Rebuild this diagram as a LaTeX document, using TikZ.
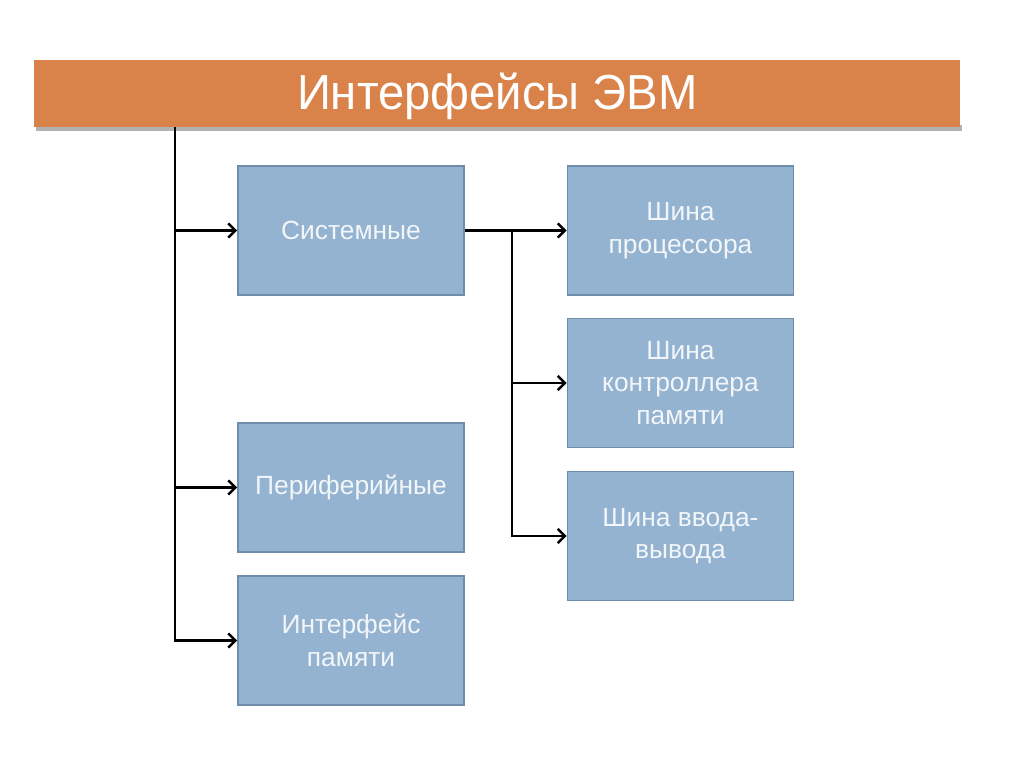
\documentclass[tikz,border=0pt]{standalone}
\usepackage{fontspec}
\setmainfont{Liberation Sans}
\usetikzlibrary{positioning, arrows.meta}

\definecolor{barorange}{HTML}{D9834B}
\definecolor{boxblue}{HTML}{93B3D1}
\definecolor{boxline}{HTML}{6F8DAA}
\definecolor{boxtext}{HTML}{F3F6F9}

\begin{document}
\begin{tikzpicture}[node distance=3.06cm, on grid,
    box/.style={draw=boxline, line width=1.1pt, fill=boxblue, minimum width=4.52cm,
      minimum height=2.58cm, align=center, text=boxtext,
      font=\fontsize{15}{18.5}\selectfont},
    link/.style={line width=1.4pt, -{Straight Barb[length=4pt, width=8pt]}}]
  \useasboundingbox[fill=white] (0,0) rectangle (20.48,-15.34);
  % title bar
  \fill[black!30] (0.72,-2.50) rectangle (19.24,-2.62);
  \node[fill=barorange, minimum width=18.52cm, minimum height=1.34cm, anchor=north west]
    (bar) at (0.68,-1.20) {};
  \node[text=white, font=\fontsize{28}{32}\selectfont, xscale=0.96]
    (title) at ([yshift=-0.06cm]bar.center) {Интерфейсы ЭВМ};

  % left column
  \node[box] (sys) at (7.02,-4.61) {Системные};
  \node[box] (peri) [below=5.14cm of sys] {Периферийные};
  \node[box] (mem) [below=of peri] {Интерфейс\\памяти};

  % right column
  \node[box] (cpu) [right=6.59cm of sys] {Шина\\процессора};
  \node[box] (ctrl) [below=3.05cm of cpu] {Шина\\контроллера\\памяти};
  \node[box] (io) [below=of ctrl] {Шина ввода-\\вывода};

  % connectors
  \coordinate (trunk) at (3.50,-2.54);
  \coordinate (fork) at (10.24,-4.61);
  \draw[link] (trunk) |- (mem.west);
  \draw[link] (trunk |- sys.west) -- (sys.west);
  \draw[link] (trunk |- peri.west) -- (peri.west);
  \draw[link] (sys.east) -- (cpu.west);
  \draw[link] (fork) |- (io.west);
  \draw[link] (fork |- ctrl.west) -- (ctrl.west);
\end{tikzpicture}
\end{document}
